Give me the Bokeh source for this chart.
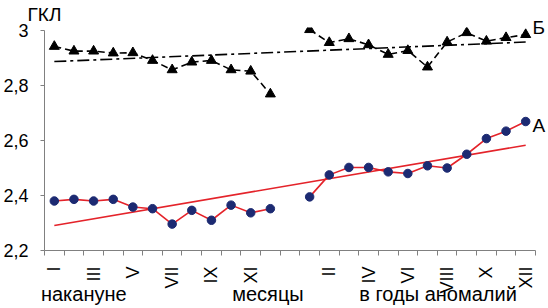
import numpy as np
from bokeh.plotting import figure
from bokeh.models import FixedTicker, CustomJSTickFormatter, LinearAxis, Range1d
from bokeh.embed import file_html
from bokeh.resources import INLINE

roman = ["I", "II", "III", "IV", "V", "VI", "VII", "VIII", "IX", "X", "XI", "XII"]

# Series A (red line, navy dots): months before anomaly and in anomaly years
a_before = [2.380, 2.386, 2.380, 2.386, 2.358, 2.352, 2.296, 2.346, 2.310, 2.365, 2.337, 2.352]
a_during = [2.395, 2.475, 2.502, 2.502, 2.486, 2.480, 2.508, 2.500, 2.550, 2.607, 2.634, 2.669]
# Series Б (dashed black, triangles)
b_before = [2.942, 2.925, 2.925, 2.918, 2.919, 2.891, 2.857, 2.885, 2.891, 2.857, 2.852, 2.769]
b_during = [3.003, 2.956, 2.970, 2.948, 2.913, 2.927, 2.867, 2.958, 2.992, 2.961, 2.974, 2.985]
# Linear trends (start, end)
a_trend = [2.291, 2.583]
b_trend = [2.887, 2.958]

y_ticks = [2.2, 2.4, 2.6, 2.8, 3.0]
y_label = "ГКЛ"
series_names = ["А", "Б"]
bottom_texts = ["накануне", "месяцы", "в годы аномалий"]

n = len(roman)
x_before = list(range(1, n + 1))
x_during = list(range(n + 2, 2 * n + 2))
x_trend = [x_before[0], x_during[-1]]

FONT = "Liberation Sans"
RED = "#e4232a"
NAVY = "#1c2a72"
GRAY = "#808080"

TOP, BOTTOM, LEFT, RIGHT = 27, 58, 41, 11
W, H = 548, 308
frame_h = H - TOP - BOTTOM
px_per_unit = 275.0
y_end = 3.0 + (30 - TOP) / px_per_unit
y_start = y_end - frame_h / px_per_unit

p = figure(width=W, height=H, output_backend="svg", toolbar_location=None,
           x_range=Range1d(0.5, 2 * n + 1.5), y_range=Range1d(y_start, y_end),
           min_border_left=LEFT, min_border_right=RIGHT, min_border_top=TOP, min_border_bottom=BOTTOM)
p.outline_line_color = None
p.xgrid.visible = False
p.ygrid.visible = False
p.background_fill_color = "white"
p.border_fill_color = "white"

# trends
p.line(x_trend, b_trend, line_color="black", line_width=1.6, line_dash="12 4 3 4")
p.line(x_trend, a_trend, line_color=RED, line_width=1.6)

# series Б
for xs, ys in ((x_before, b_before), (x_during, b_during)):
    p.line(xs, ys, line_color="black", line_width=1.6, line_dash="7 4")
    p.scatter(xs, ys, marker="triangle", size=10, fill_color="black", line_color="black")

# series A
for xs, ys in ((x_before, a_before), (x_during, a_during)):
    p.line(xs, ys, line_color=RED, line_width=1.6)
    p.scatter(xs, ys, marker="circle", size=8.5, fill_color=NAVY, line_color=NAVY)

# x axis (month labels + bottom captions as axis label)
tick_pos = []
tick_lab = {}
for m in range(1, n + 1, 2):
    tick_pos.append(x_before[m - 1]); tick_lab[x_before[m - 1]] = roman[m - 1]
for m in range(2, n + 1, 2):
    tick_pos.append(x_during[m - 1]); tick_lab[x_during[m - 1]] = roman[m - 1]
xa = p.xaxis[0]
xa.ticker = FixedTicker(ticks=tick_pos, minor_ticks=[0.5 + i for i in range(2 * n + 2)])
xa.major_label_overrides = tick_lab
xa.major_tick_out = 0
xa.major_tick_in = 0
xa.minor_tick_out = 5
xa.minor_tick_in = 0
xa.minor_tick_line_color = GRAY
xa.axis_line_color = GRAY
xa.major_label_orientation = np.pi / 2
xa.major_label_standoff = 11
xa.major_label_text_font = FONT
xa.major_label_text_font_size = "18px"
xa.major_label_text_color = "black"
NB = "\u00a0"
xa.axis_label = bottom_texts[0] + NB * 19 + bottom_texts[1] + NB * 10 + bottom_texts[2] + NB * 4
xa.axis_label_text_font = FONT
xa.axis_label_text_font_size = "20px"
xa.axis_label_text_font_style = "normal"
xa.axis_label_text_color = "black"
xa.axis_label_standoff = -14

# left y axis
ya = p.yaxis[0]
ya.ticker = FixedTicker(ticks=y_ticks)
ya.bounds = (y_ticks[0], y_ticks[-1])
ya.formatter = CustomJSTickFormatter(code="return (Math.round(tick*10)/10).toString().replace('.', ',');")
ya.major_tick_out = 4
ya.major_tick_in = 0
ya.minor_tick_out = 0
ya.minor_tick_in = 0
ya.major_tick_line_color = GRAY
ya.axis_line_color = GRAY
ya.major_label_standoff = 12
ya.major_label_text_font = FONT
ya.major_label_text_font_size = "18px"
ya.major_label_text_color = "black"

# "ГКЛ" as label of an unlined axis above
top_ax = LinearAxis(ticker=FixedTicker(ticks=[0.5], minor_ticks=[]),
                    major_label_overrides={0.5: y_label},
                    axis_line_color=None, major_tick_line_color=None, minor_tick_line_color=None,
                    major_tick_out=0, major_tick_in=0, minor_tick_out=0, minor_tick_in=0,
                    major_label_standoff=3, major_label_text_font=FONT,
                    major_label_text_font_size="19px", major_label_text_color="black")
p.add_layout(top_ax, "above")

# series names on the right
a_lab_y = 2.654
b_lab_y = y_end
right_ax = LinearAxis(ticker=FixedTicker(ticks=[a_lab_y, b_lab_y], minor_ticks=[]),
                      major_label_overrides={a_lab_y: series_names[0], b_lab_y: series_names[1]},
                      axis_line_color=None, major_tick_line_color=None, minor_tick_line_color=None,
                      major_tick_out=0, major_tick_in=0, minor_tick_out=0, minor_tick_in=0,
                      major_label_standoff=-3, major_label_text_font=FONT,
                      major_label_text_font_size="19px", major_label_text_color="black")
p.add_layout(right_ax, "right")

open("out.html", "w").write(file_html(p, INLINE))
